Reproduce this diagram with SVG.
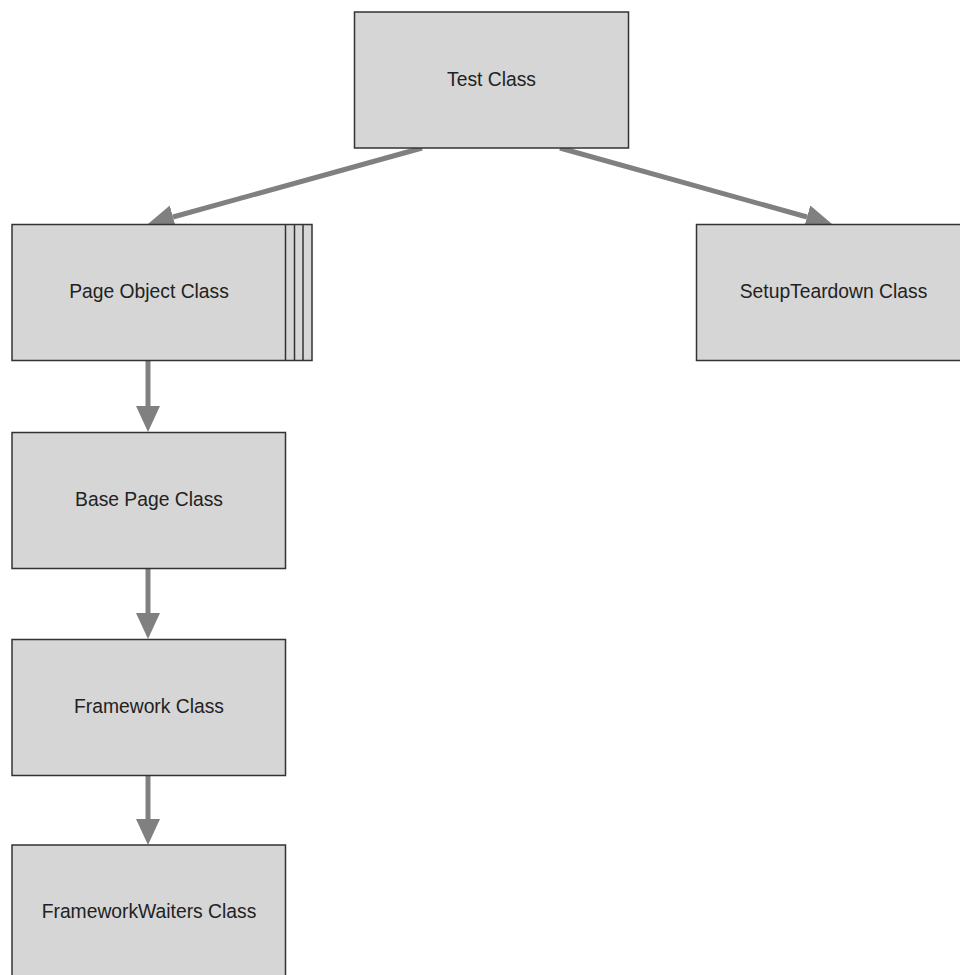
<svg xmlns="http://www.w3.org/2000/svg" width="960" height="975" viewBox="0 0 960 975">
<style>
.box{fill:#d6d6d6;stroke:#333;stroke-width:1.5}
.sep{stroke:#333;stroke-width:1.5;fill:none}
.lbl{font-family:"Liberation Sans",Arial,sans-serif;font-size:19.3px;fill:#222;text-anchor:middle}
.edge{stroke:#808080;stroke-width:5;fill:none;marker-end:url(#head)}
</style>
<defs>
<marker id="head" markerUnits="userSpaceOnUse" markerWidth="26" markerHeight="24" refX="0" refY="12" orient="auto" viewBox="0 0 26 24">
<path d="M0,0 L26,12 L0,24 Z" fill="#808080"/>
</marker>
</defs>
<rect width="960" height="975" fill="#fff"/>
<g id="connectors">
<line class="edge" x1="422" y1="148" x2="173" y2="217"/>
<line class="edge" x1="560" y1="148" x2="807" y2="217"/>
<line class="edge" x1="148" y1="361" x2="148" y2="406"/>
<line class="edge" x1="148" y1="569" x2="148" y2="613"/>
<line class="edge" x1="148" y1="776" x2="148" y2="819"/>
</g>
<g id="test-class">
<rect class="box" x="354.5" y="12" width="274" height="136"/>
<text class="lbl" x="491.5" y="86">Test Class</text>
</g>
<g id="page-object-class">
<rect class="box" x="12" y="224.5" width="300" height="136"/>
<line class="sep" x1="285.5" y1="224.5" x2="285.5" y2="360.5"/>
<line class="sep" x1="294.5" y1="224.5" x2="294.5" y2="360.5"/>
<line class="sep" x1="303" y1="224.5" x2="303" y2="360.5"/>
<text class="lbl" x="149" y="298">Page Object Class</text>
</g>
<g id="setupteardown-class">
<rect class="box" x="696.5" y="224.5" width="274" height="136"/>
<text class="lbl" x="833.5" y="298">SetupTeardown Class</text>
</g>
<g id="base-page-class">
<rect class="box" x="12" y="432.5" width="273.5" height="136"/>
<text class="lbl" x="149" y="506">Base Page Class</text>
</g>
<g id="framework-class">
<rect class="box" x="12" y="639.5" width="273.5" height="136"/>
<text class="lbl" x="149" y="713">Framework Class</text>
</g>
<g id="frameworkwaiters-class">
<rect class="box" x="12" y="845" width="273.5" height="136"/>
<text class="lbl" x="149" y="918">FrameworkWaiters Class</text>
</g>
</svg>
